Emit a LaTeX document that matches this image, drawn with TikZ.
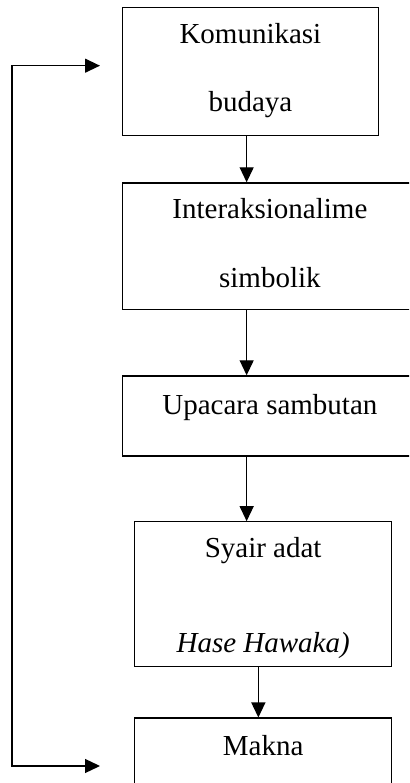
\documentclass[tikz,border=0pt]{standalone}
\usepackage{fontspec}
\setmainfont{Liberation Serif}
\usetikzlibrary{positioning}
\usetikzlibrary{arrows.meta}

\begin{document}
\begin{tikzpicture}
		[x=1pt, y=1pt,
		box/.style={rectangle, draw=black, line width=1.3pt, inner sep=0pt},
		txt/.style={anchor=base, inner sep=0pt, font=\fontsize{29}{35}\selectfont},
		flow/.style={line width=1.2pt, -{Triangle[length=15pt, width=14pt]}},
		back/.style={line width=1.3pt, {Triangle[length=15pt, width=14pt]}-{Triangle[length=15pt, width=14pt]}}]
		\useasboundingbox (0,0) rectangle (409,783);
		\clip (0,0) rectangle (409,783);

		\node[box, minimum width=256.5pt, minimum height=128.3pt, anchor=north west] (kom) at (121.5,776.3) {};
		\node[box, minimum width=295.5pt, minimum height=126.7pt, below=46pt of kom.south west, anchor=north west] (inter) {};
		\node[box, minimum width=295.5pt, minimum height=80pt, below=65pt of inter.south west, anchor=north west] (upa) {};
		\node[box, minimum width=257pt, minimum height=144.4pt, below=64.6pt of upa.south west, anchor=north west, xshift=12.5pt] (syair) {};
		\node[box, minimum width=257pt, minimum height=108pt, below=50.6pt of syair.south west, anchor=north west] (makna) {};

		\node[txt] (komA) at ([yshift=-36.6pt]kom.north) {Komunikasi};
		\node[txt] (komB) at ([yshift=-105pt]kom.north) {budaya};
		\node[txt] (interA) at ([yshift=-36.3pt]inter.north) {Interaksionalime};
		\node[txt] (interB) at ([yshift=-105.7pt]inter.north) {simbolik};
		\node[txt] (upaA) at ([yshift=-39pt]upa.north) {Upacara sambutan};
		\node[txt] (syairA) at ([yshift=-36pt]syair.north) {Syair adat};
		\node[txt] (syairB) at ([yshift=-131pt]syair.north) {\textit{Hase Hawaka)}};
		\node[txt] (maknaA) at ([yshift=-37.7pt]makna.north) {Makna};

		\coordinate (col) at ([xshift=-3.75pt]kom.south);
		\draw[flow] (col) -- (col |- inter.north);
		\draw[flow] (col |- inter.south) -- (col |- upa.north);
		\draw[flow] (col |- upa.south) -- (col |- syair.north);
		\draw[flow] ([xshift=-4.8pt]syair.south) -- ([xshift=-4.8pt]makna.north);

		\coordinate (toptip) at (100,717.3);
		\coordinate (bottip) at (100,17);
		\draw[back] (bottip) -| ([xshift=-88pt]toptip) -- (toptip);
	\end{tikzpicture}
\end{document}
